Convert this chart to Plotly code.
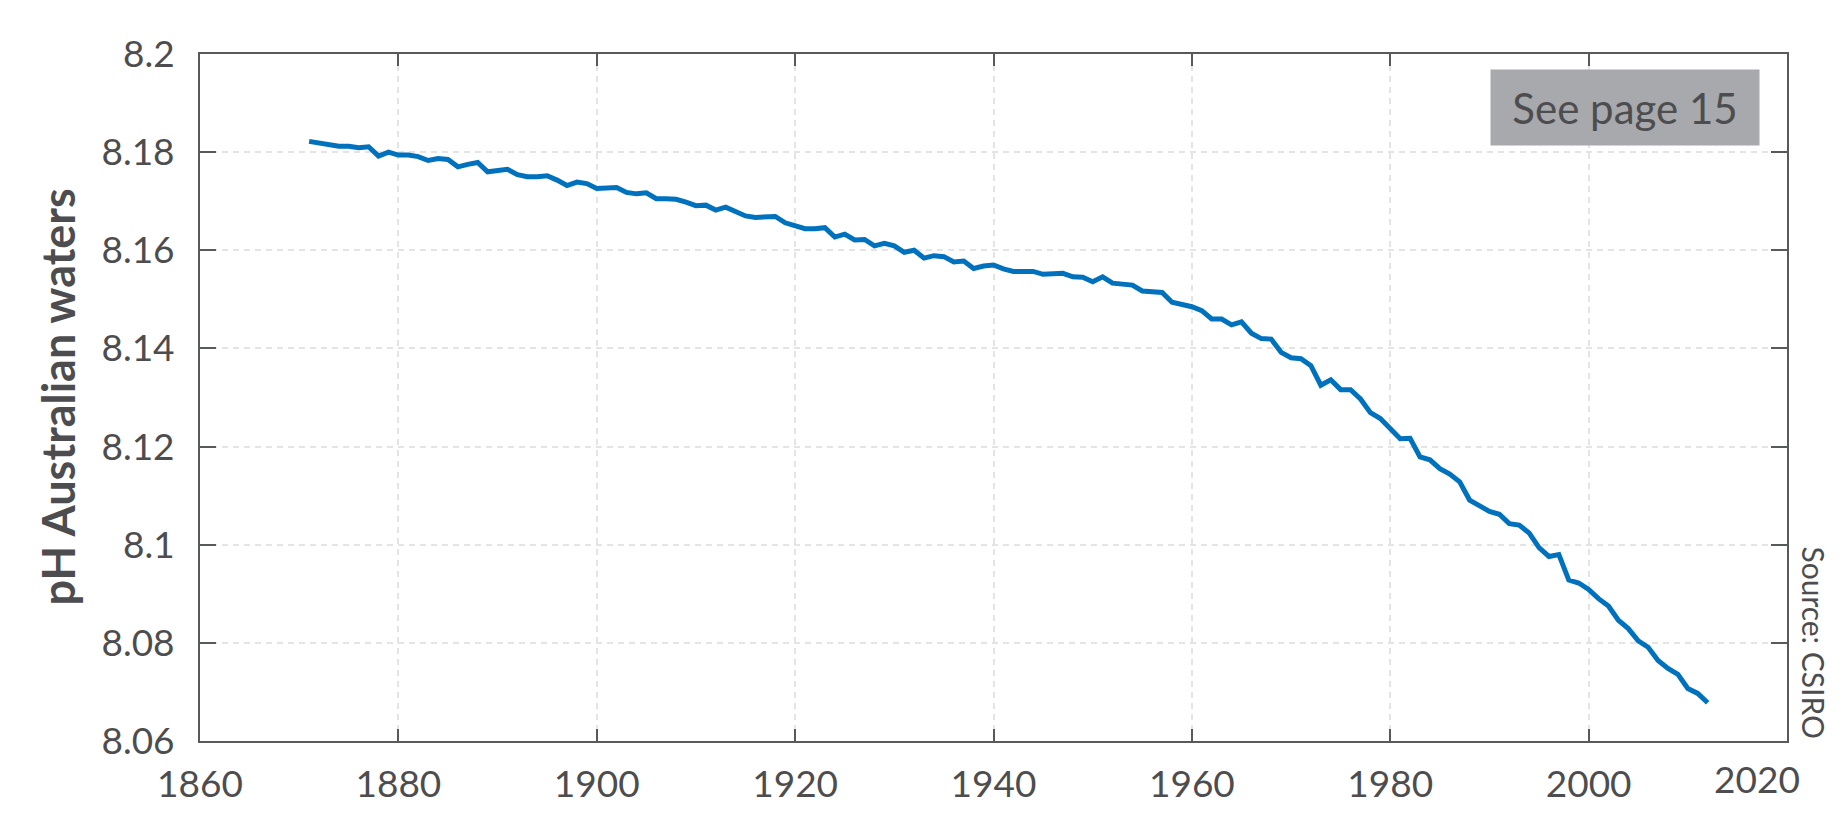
import plotly.graph_objects as go

# --- data (annual pH, Australian waters) ---
years = list(range(1871, 2013))
ph = [
    8.1822, 8.1819, 8.1816, 8.1812, 8.1812, 8.1809, 8.1811, 8.1792, 8.1800, 8.1794,  # 1871-1880
    8.1794, 8.1791, 8.1783, 8.1787, 8.1785, 8.1770, 8.1775, 8.1779, 8.1760, 8.1762,  # 1881-1890
    8.1765, 8.1754, 8.1750, 8.1750, 8.1752, 8.1743, 8.1732, 8.1739, 8.1736, 8.1726,  # 1891-1900
    8.1726, 8.1728, 8.1718, 8.1715, 8.1717, 8.1705, 8.1705, 8.1704, 8.1698, 8.1691,  # 1901-1910
    8.1692, 8.1682, 8.1688, 8.1680, 8.1670, 8.1667, 8.1667, 8.1669, 8.1656, 8.1650,  # 1911-1920
    8.1644, 8.1644, 8.1646, 8.1627, 8.1633, 8.1621, 8.1622, 8.1609, 8.1614, 8.1609,  # 1921-1930
    8.1596, 8.1600, 8.1584, 8.1589, 8.1587, 8.1576, 8.1578, 8.1563, 8.1568, 8.1570,  # 1931-1940
    8.1562, 8.1557, 8.1557, 8.1557, 8.1551, 8.1553, 8.1553, 8.1546, 8.1545, 8.1536,  # 1941-1950
    8.1546, 8.1533, 8.1532, 8.1529, 8.1517, 8.1515, 8.1514, 8.1494, 8.1489, 8.1485,  # 1951-1960
    8.1477, 8.1460, 8.1460, 8.1448, 8.1454, 8.1431, 8.1420, 8.1419, 8.1392, 8.1381,  # 1961-1970
    8.1379, 8.1365, 8.1325, 8.1336, 8.1316, 8.1316, 8.1297, 8.1269, 8.1257, 8.1238,  # 1971-1980
    8.1216, 8.1217, 8.1179, 8.1173, 8.1155, 8.1144, 8.1128, 8.1091, 8.1080, 8.1068,  # 1981-1990
    8.1062, 8.1043, 8.1040, 8.1024, 8.0994, 8.0976, 8.0980, 8.0928, 8.0922, 8.0909,  # 1991-2000
    8.0890, 8.0875, 8.0846, 8.0829, 8.0804, 8.0791, 8.0764, 8.0748, 8.0736, 8.0707,  # 2001-2010
    8.0697, 8.0678,                                                                  # 2011-2012
]

x_ticks = [1860, 1880, 1900, 1920, 1940, 1960, 1980, 2000, 2020]
# the last year label sits pulled in from the edge, so it is drawn separately
x_tick_labels = ['1860', '1880', '1900', '1920', '1940', '1960', '1980', '2000', '']
y_ticks = [8.06, 8.08, 8.10, 8.12, 8.14, 8.16, 8.18, 8.20]
y_tick_labels = ['8.06', '8.08', '8.1', '8.12', '8.14', '8.16', '8.18', '8.2']

TEXT = '#4d4d4f'
AXIS = '#58595b'
FONT = 'Lato'
TICK_SIZE = 37
X_STANDOFF = 10

fig = go.Figure()
fig.add_trace(go.Scatter(
    x=years, y=ph, mode='lines',
    line=dict(color='#0072bd', width=5),
    showlegend=False, hoverinfo='x+y',
))

axis_common = dict(
    showline=True, linecolor=AXIS, linewidth=2, mirror='ticks',
    ticks='inside', tickcolor=AXIS, tickwidth=2,
    showgrid=True, gridcolor='#e4e4e4', gridwidth=1.5, griddash='6px,5px',
    zeroline=False, automargin=False,
    tickfont=dict(family=FONT, size=TICK_SIZE, color=TEXT),
)

fig.update_xaxes(
    range=[1860, 2020], tickvals=x_ticks, ticktext=x_tick_labels, ticklen=12,
    ticklabelstandoff=X_STANDOFF,
    **axis_common,
)
fig.update_yaxes(
    range=[8.06, 8.2], tickvals=y_ticks, ticktext=y_tick_labels, ticklen=16,
    ticklabelstandoff=16,
    **axis_common,
)

fig.add_annotation(text='2020', xref='x', yref='paper', x=2020, y=0,
                   xanchor='center', yanchor='top', xshift=-30,
                   yshift=-(X_STANDOFF + 3), showarrow=False,
                   font=dict(family=FONT, size=TICK_SIZE, color=TEXT))

# y title placed as a rotated note so it sits where the reference has it
fig.add_annotation(text='<b>pH Australian waters</b>', xref='paper', yref='paper',
                   x=0, xshift=-143, y=0.5, xanchor='center', yanchor='middle',
                   textangle=-90, showarrow=False,
                   font=dict(family=FONT, size=45, color=TEXT))

# grey "See page 15" box in the top right
fig.add_annotation(text='See page 15', xref='paper', yref='paper',
                   x=0.983, y=0.978, xanchor='right', yanchor='top',
                   showarrow=False, bgcolor='#a7a9ac',
                   width=266, height=73, align='center', valign='middle',
                   font=dict(family=FONT, size=42, color=TEXT))

# vertical source note right of the plot
fig.add_annotation(text='Source: CSIRO', xref='paper', yref='paper',
                   x=1.0, xshift=27, y=0.0, yanchor='bottom', xanchor='center',
                   textangle=90, showarrow=False,
                   font=dict(family=FONT, size=30, color=TEXT))

fig.update_layout(
    width=1843, height=814,
    margin=dict(l=192, r=64, t=46, b=81, autoexpand=False),
    plot_bgcolor='white', paper_bgcolor='white',
    font=dict(family=FONT, color=TEXT),
)

fig.write_html('out.html')
